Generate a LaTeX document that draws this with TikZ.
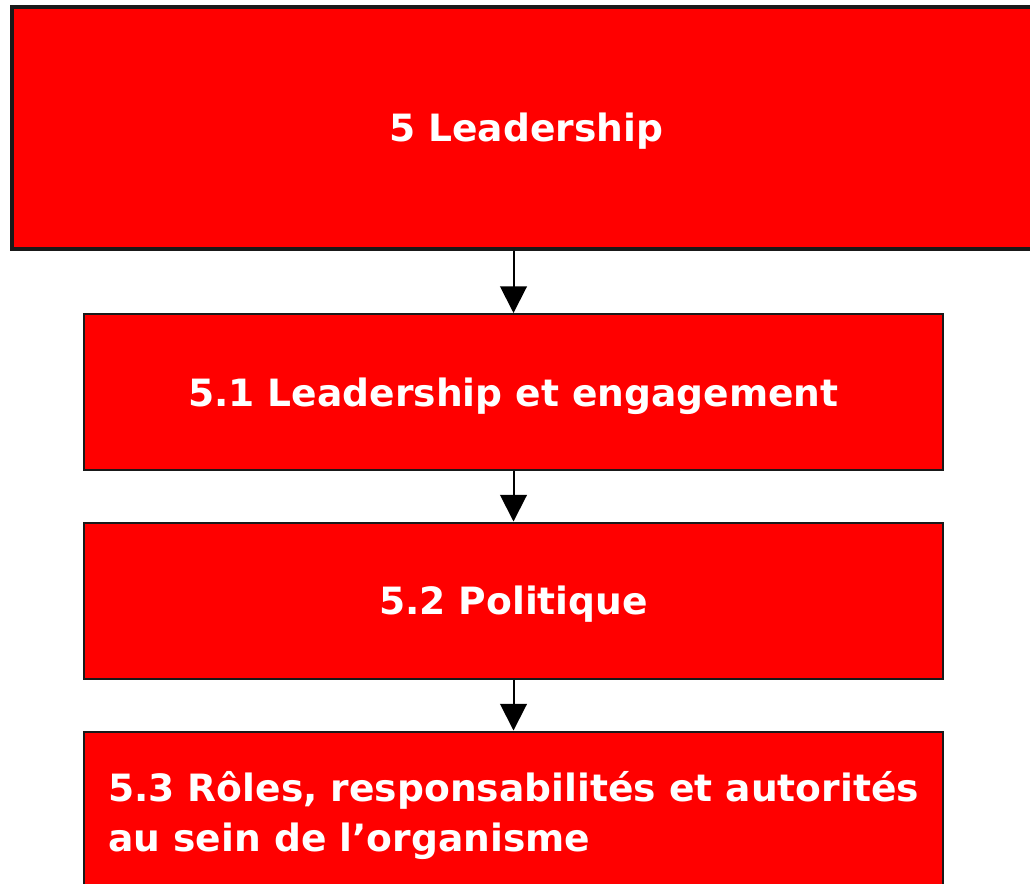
\documentclass[tikz,border=0pt]{standalone}
\usepackage{fontspec}
\setmainfont{DejaVu Sans}
\usetikzlibrary{arrows.meta}

\begin{document}
\begin{tikzpicture}[x=0.75pt,y=-0.75pt,
  box/.style={draw=black!90, line width=1.5pt, fill=red, text=white,
    font=\bfseries\fontsize{28.2}{34}\selectfont, inner sep=0pt, text depth=0pt},
  flow/.style={line width=1.5pt, -{Triangle[width=20pt,length=20pt]}}]
\useasboundingbox (0,0) rectangle (1030,883);
\clip (0,0) rectangle (1030,883);
% main clause:
\node[box, line width=3pt, minimum width=771pt, minimum height=181.5pt] (lead) at (526,127.5) {5 Leadership};
% sub clauses:
\node[box, minimum width=644pt, minimum height=117pt] (commit) at (513.5,392) {5.1 Leadership et engagement};
\node[box, minimum width=644pt, minimum height=117pt] (policy) at (513.5,600.5) {5.2 Politique};
\node[box, minimum width=644pt, minimum height=117pt] (roles) at (513.5,809.5) {};
\node[text=white, font=\bfseries\fontsize{28.2}{37.5}\selectfont, align=left, anchor=west, inner sep=0pt] (roleslbl) at (108,816)
  {5.3 Rôles, responsabilités et autorités\\au sein de l’organisme};
% arrows:
\draw[flow] (lead.south -| commit.north) -- (commit.north);
\draw[flow] (commit) -- (policy);
\draw[flow] (policy) -- (roles);
\end{tikzpicture}
\end{document}
